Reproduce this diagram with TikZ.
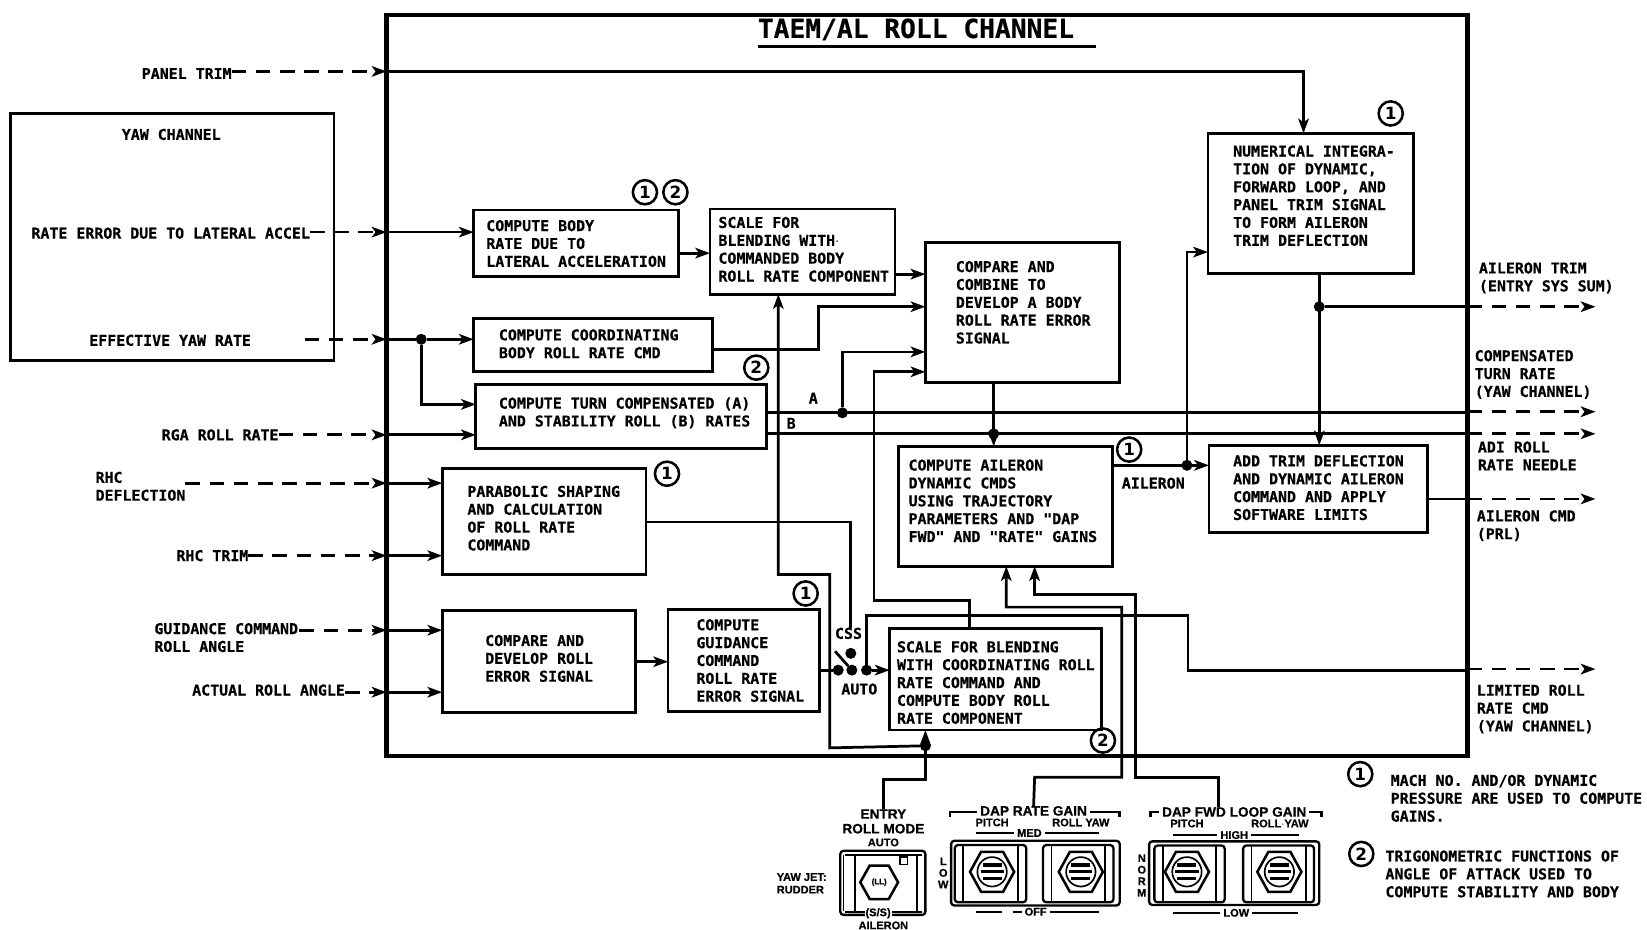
\documentclass[tikz,border=0pt]{standalone}
\usepackage{fontspec}
\usetikzlibrary{arrows.meta,calc}
\newfontfamily\monof[BoldFeatures={FakeBold=0.5}]{DejaVu Sans Mono}
\newfontfamily\sansf[BoldFeatures={FakeBold=0.6}]{Liberation Sans}
\newfontfamily\circf{DejaVu Sans}
\tikzset{
 blk/.style={draw,line width=2.7pt,rectangle,inner sep=0pt,outer sep=0pt,font=\monof\bfseries\fontsize{14.2}{17}\selectfont},
 lab/.style={anchor=west,inner sep=0pt,outer sep=0pt,align=left,font=\monof\bfseries\fontsize{14.2}{17}\selectfont},
 clab/.style={inner ysep=0pt,inner xsep=3pt,outer sep=0pt,align=center,font=\sansf\bfseries\fontsize{13}{14}\selectfont},
 slab/.style={inner ysep=0pt,inner xsep=3pt,outer sep=0pt,align=center,font=\sansf\bfseries\fontsize{10.5}{12}\selectfont},
 conn/.style={line width=2.6pt},
 arr/.style={conn,-{Stealth[length=14pt,width=10pt,inset=3.5pt]}},
 dsh/.style={arr,dash pattern=on 14pt off 9pt},
 dot/.style={circle,fill,draw=none,inner sep=0pt,outer sep=0pt,minimum size=10.5pt},
 mark1/.style={circle,draw,line width=2.4pt,inner sep=0pt,outer sep=0pt,minimum size=23pt,font=\circf\bfseries\fontsize{16}{16}\selectfont},
 pan/.style={line width=2.2pt,rounded corners=3pt},
 thinl/.style={line width=1.5pt},
}
\newcommand\blk[8]{%
 \pgfmathsetmacro\bw{#4-#2}\pgfmathsetmacro\bh{#5-#3}\pgfmathsetmacro\bl{#6-#2}\pgfmathsetmacro\bt{#7-#3}%
 \node[blk] (#1) at ({(#2+#4)/2},{(#3+#5)/2}) {\parbox[c][\bh pt][t]{\bw pt}{\leftskip=\bl pt \rightskip=-30pt plus 1fil \baselineskip=17pt \lineskiplimit=-100pt \rule{0pt}{\bt pt}#8\par}};}
\newcommand\hexa[4]{\draw[line width=2.4pt] ({#1-#3},#2) -- ({#1-#3/2},{#2-#4}) -- ({#1+#3/2},{#2-#4}) -- ({#1+#3},#2) -- ({#1+#3/2},{#2+#4}) -- ({#1-#3/2},{#2+#4}) -- cycle;}
\newcommand\tog[2]{\hexa{#1}{#2}{21}{19}
 \draw[line width=1.6pt] (#1,#2) circle (14);
 \fill ({#1-9},{#2-8}) rectangle ({#1+9},{#2-5});
 \fill ({#1-11},{#2-2}) rectangle ({#1+11},{#2+1});
 \fill ({#1-9},{#2+5}) rectangle ({#1+9},{#2+8});}
\newcommand\inpan[4]{\draw[pan] (#1,#2) rectangle (#3,#4);
 \draw[line width=1.8pt] ({#1+8},#2) -- ({#1+8},#4);
 \draw[line width=1.8pt] ({#3-8},#2) -- ({#3-8},#4);}
\begin{document}
\begin{tikzpicture}[x=1pt,y=-1pt]
\useasboundingbox (0,0) rectangle (1568,885);
% frame
\node[draw,line width=4pt,rectangle,inner sep=0pt,outer sep=0pt,minimum width=1029pt,minimum height=706pt] (frame) at (882.5,367) {};
\node[inner sep=0pt,font=\monof\bfseries\fontsize{25}{25}\selectfont] (title) at (872,28) {TAEM/AL ROLL CHANNEL};
\coordinate (tl) at (722,44); \coordinate (tr) at (1043,44);
\draw[line width=3pt] (tl) -- (tr);
% blocks
\blk{yaw}{10}{108}{318}{343}{30}{227}{}
\blk{A}{451}{200}{646}{263}{463}{220}{COMPUTE BODY\\RATE DUE TO\\LATERAL ACCELERATION}
\blk{B}{676}{199}{852}{280}{684}{217}{SCALE FOR\\BLENDING WITH$\cdot$\\COMMANDED BODY\\ROLL RATE COMPONENT}
\blk{C}{451}{303}{678}{354}{475}{324}{COMPUTE COORDINATING\\BODY ROLL RATE CMD}
\blk{D}{453}{366}{730}{427}{475}{389}{COMPUTE TURN COMPENSATED (A)\\AND STABILITY ROLL (B) RATES}
\blk{E}{421}{446}{615}{547}{445}{473}{PARABOLIC SHAPING\\AND CALCULATION\\OF ROLL RATE\\COMMAND}
\blk{F}{421}{581}{605}{678}{462}{615}{COMPARE AND\\DEVELOP ROLL\\ERROR SIGNAL}
\blk{G}{636}{580}{780}{677}{663}{600}{COMPUTE\\GUIDANCE\\COMMAND\\ROLL RATE\\ERROR SIGNAL}
\blk{H}{847}{598}{1049}{695}{854}{621}{SCALE FOR BLENDING\\WITH COORDINATING ROLL\\RATE COMMAND AND\\COMPUTE BODY ROLL\\RATE COMPONENT}
\blk{I}{881}{231}{1066}{364}{910}{259}{COMPARE AND\\COMBINE TO\\DEVELOP A BODY\\ROLL RATE ERROR\\SIGNAL}
\blk{J}{855}{425}{1059}{539}{865}{448}{COMPUTE AILERON\\DYNAMIC CMDS\\USING TRAJECTORY\\PARAMETERS AND "DAP\\FWD" AND "RATE" GAINS}
\blk{K}{1150}{127}{1346}{260}{1174}{149}{NUMERICAL INTEGRA-\\TION OF DYNAMIC,\\FORWARD LOOP, AND\\PANEL TRIM SIGNAL\\TO FORM AILERON\\TRIM DEFLECTION}
\blk{L}{1151}{424}{1359}{507}{1174}{444}{ADD TRIM DEFLECTION\\AND DYNAMIC AILERON\\COMMAND AND APPLY\\SOFTWARE LIMITS}
% labels
\node[lab] (yawt) at (116,128) {YAW CHANNEL};
\node[lab] (lrate) at (30,222) {RATE ERROR DUE TO LATERAL ACCEL};
\node[lab] (leff) at (85,324) {EFFECTIVE YAW RATE};
\node[lab] (lpanel) at (135,70) {PANEL TRIM};
\node[lab] (lrga) at (154,414) {RGA ROLL RATE};
\node[lab] (lrhc) at (91,463) {RHC\\DEFLECTION};
\node[lab] (lrhct) at (168,529) {RHC TRIM};
\node[lab] (lgui) at (147,607) {GUIDANCE COMMAND\\ROLL ANGLE};
\node[lab] (lact) at (183,657) {ACTUAL ROLL ANGLE};
\node[lab] (oa) at (1408,264.5) {AILERON TRIM\\(ENTRY SYS SUM)};
\node[lab] (ob) at (1404,356.5) {COMPENSATED\\TURN RATE\\(YAW CHANNEL)};
\node[lab] (oc) at (1407,434) {ADI ROLL\\RATE NEEDLE};
\node[lab] (od) at (1406,500.5) {AILERON CMD\\(PRL)};
\node[lab] (oe) at (1406,675) {LIMITED ROLL\\RATE CMD\\(YAW CHANNEL)};
\node[lab] (la) at (770,379) {A};
\node[lab] (lb) at (749,403) {B};
\node[lab] (lail) at (1068,460) {AILERON};
\node[lab] (lcss) at (795,603) {CSS};
\node[lab] (lauto) at (801,656) {AUTO};
\node[lab] (n1) at (1324,760) {MACH NO. AND/OR DYNAMIC\\PRESSURE ARE USED TO COMPUTE\\GAINS.};
\node[lab] (n2) at (1319,832) {TRIGONOMETRIC FUNCTIONS OF\\ANGLE OF ATTACK USED TO\\COMPUTE STABILITY AND BODY};
% circled marks
\node[mark1] (m1) at (614,183) {1};
\node[mark1] (m2) at (643,183) {2};
\node[mark1] (m3) at (720,350) {2};
\node[mark1] (m4) at (635,451) {1};
\node[mark1] (m5) at (767,565) {1};
\node[mark1] (m6) at (1050,705) {2};
\node[mark1] (m7) at (1075,428) {1};
\node[mark1] (m8) at (1324,108) {1};
\node[mark1] (m9) at (1295,737) {1};
\node[mark1] (m10) at (1296,813) {2};
% dots
\node[dot] (d1) at (401,323) {};
\node[dot] (d2) at (802,393) {};
\node[dot] (d3) at (946,413) {};
\node[dot] (d4) at (1130,443) {};
\node[dot] (d5) at (1256,292) {};
\node[dot] (d6) at (881,710) {};
\node[dot] (s1) at (798,638) {};
\node[dot] (s2) at (811,638) {};
\node[dot] (s3) at (825,638) {};
\node[dot] (s4) at (810,622) {};
% inputs
\draw[dsh] (lpanel.east |- 0,68) -- (frame.west |- 0,68);
\draw[arr] (frame.west |- 0,68) -- (1241,68) -- (1241,0 |- K.north);
\draw[dsh] (lrate.east |- 0,221) -- (frame.west |- 0,221);
\draw[arr] (frame.west |- 0,221) -- (A.west |- 0,221);
\draw[dsh] (290,323) -- (frame.west |- 0,323);
\draw[arr] (frame.west |- 0,323) -- (d1) -- (C.west |- 0,323);
\draw[arr] (d1) -- (d1 |- 0,385) -- (D.west |- 0,385);
\draw[dsh] (lrga.east |- 0,414) -- (frame.west |- 0,414);
\draw[arr] (frame.west |- 0,414) -- (D.west |- 0,414);
\draw[dsh] (lrhc.east |- 0,460) -- (frame.west |- 0,460);
\draw[arr] (frame.west |- 0,460) -- (E.west |- 0,460);
\draw[dsh] (lrhct.east |- 0,529) -- (frame.west |- 0,529);
\draw[arr] (frame.west |- 0,529) -- (E.west |- 0,529);
\draw[dsh] (285,600) -- (frame.west |- 0,600);
\draw[arr] (frame.west |- 0,600) -- (F.west |- 0,600);
\draw[dsh] (lact.east |- 0,659) -- (frame.west |- 0,659);
\draw[arr] (frame.west |- 0,659) -- (F.west |- 0,659);
% internal
\draw[arr] (A.east |- 0,241) -- (B.west |- 0,241);
\draw[arr] (B.east |- 0,261) -- (I.west |- 0,261);
\draw[arr] (C.east |- 0,333) -- (779,333) -- (779,292) -- (I.west |- 0,292);
\draw[arr] (d2) -- (d2 |- 0,335) -- (I.west |- 0,335);
\draw[arr] (923,0 |- H.north) -- (923,572) -- (832,572) -- (832,354) -- (I.west |- 0,354);
\draw[arr] (946,0 |- I.south) -- (946,0 |- J.north);
\draw[arr] (F.east |- 0,630) -- (G.west |- 0,630);
\draw[arr] (d6) -- (790,712) -- (790,547) -- (741,547) -- (741,0 |- B.south);
\draw[conn] (D.east |- 0,393) -- (frame.east |- 0,393);
\draw[dsh] (frame.east |- 0,392) -- (1519,392);
\draw[conn] (D.east |- 0,413) -- (frame.east |- 0,413);
\draw[dsh] (frame.east |- 0,413) -- (1519,413);
\draw[arr] (J.east |- 0,443) -- (L.west |- 0,443);
\draw[arr] (d4) -- (d4 |- 0,240) -- (K.west |- 0,240);
\draw[arr] (1256,0 |- K.south) -- (1256,0 |- L.north);
\draw[conn] (d5) -- (frame.east |- d5);
\draw[dsh] (frame.east |- d5) -- (1519,292);
\draw[conn] (L.east |- 0,475) -- (frame.east |- 0,475);
\draw[dsh] (frame.east |- 0,475) -- (1519,475);
\draw[conn] (E.east |- 0,497) -- (810,497) -- (810,0 |- lcss.north);
\draw[conn] (G.east |- 0,638) -- (s1);
\draw[arr] (s3) -- (H.west |- 0,638);
\draw[conn] (795,620) -- (s2);
\draw[conn] (s3) -- (825,586) -- (1131,586) -- (1131,638) -- (frame.east |- 0,638);
\draw[dsh] (frame.east |- 0,637) -- (1519,637);
% panel labels
\node[clab] (lentry) at (841,782) {ENTRY\\ROLL MODE};
\node[slab] (lauto2) at (841,802) {AUTO};
\node[slab,anchor=west,align=left] (lyj) at (736.5,841) {YAW JET:\\RUDDER};
\node[slab] (lail2) at (841,881) {AILERON};
\node[clab] (ldrg) at (984,772) {DAP RATE GAIN};
\node[slab] (p1) at (944.5,783) {PITCH};
\node[slab] (p2) at (1029,783) {ROLL YAW};
\node[slab] (med) at (980,793) {MED};
\node[slab] (off) at (986,868) {OFF};
\node[clab] (ldfg) at (1175,773) {DAP FWD LOOP GAIN};
\node[slab] (p3) at (1130,784) {PITCH};
\node[slab] (p4) at (1218.5,784) {ROLL$\cdot$YAW};
\node[slab] (high) at (1175,795) {HIGH};
\node[slab] (low) at (1177,869) {LOW};
\node[slab] (lowv) at (898,831) {L\\[-1pt]O\\[-1pt]W};
\node[slab] (normv) at (1087,833.5) {N\\[-1pt]O\\[-1pt]R\\[-1pt]M};
% bottom connectors
\coordinate (fe) at (841,0 |- lentry.north);
\draw[arr] (fe) -- (841,742) -- (881,742) -- (881,0 |- H.south);
\draw[arr] (ldrg.north) -- (985,740) -- (1068,740) -- (1068,578) -- (958,578) -- (958,0 |- J.south);
\draw[arr] (1160,0 |- ldfg.north) -- (1160,740) -- (1081,740) -- (1081,566) -- (985,566) -- (985,0 |- J.south);
% panel 1
\draw[pan] (800,810) rectangle (881,871);
\draw[line width=1.8pt] (814,814) -- (814,867);
\draw[line width=1.8pt] (873,814) -- (873,867);
\draw[line width=1.8pt] (803,814) -- (803,867);
\draw[line width=1.5pt] (804,814) -- (878,814);
\draw[line width=1.5pt] (804,868) -- (878,868);
\hexa{837}{840}{18}{16}
\node[slab,font=\sansf\bfseries\fontsize{7.5}{8}\selectfont] (lll) at (837,840) {(LL)};
\draw[line width=1.5pt] (857,816) rectangle (864,823);
\node[slab,fill=white,inner xsep=1pt] (lss) at (836,869.5) {(S/S)};
% panel 2
\draw[pan] (905.5,800.5) rectangle (1066,862);
\inpan{909}{804.5}{977}{859}
\inpan{993}{804.5}{1060}{859}
\tog{944.5}{830}
\tog{1029}{830}
% panel 3
\draw[pan] (1094,801) rectangle (1256,861.5);
\inpan{1099}{805}{1166}{859}
\inpan{1183.5}{805}{1251}{859}
\tog{1130}{830}
\tog{1218}{830}
% brackets and rules
\draw[conn] (904.5,778) -- (904.5,773) -- (ldrg.west |- 0,773);
\draw[conn] (ldrg.east |- 0,773) -- (1066,773) -- (1066,778);
\draw[conn] (1095,778) -- (1095,773) -- (ldfg.west |- 0,773);
\draw[conn] (ldfg.east |- 0,773) -- (1258,773) -- (1258,778);
\draw[thinl] (929,793) -- (med.west); \draw[thinl] (med.east) -- (1046,793);
\draw[thinl] (1117,795) -- (high.west); \draw[thinl] (high.east) -- (1237,795);
\draw[thinl] (929,868) -- (954,868); \draw[thinl] (964,868) -- (off.west); \draw[thinl] (off.east) -- (1046,868);
\draw[thinl] (1117,869) -- (low.west); \draw[thinl] (low.east) -- (1236,869);
\end{tikzpicture}
\end{document}
